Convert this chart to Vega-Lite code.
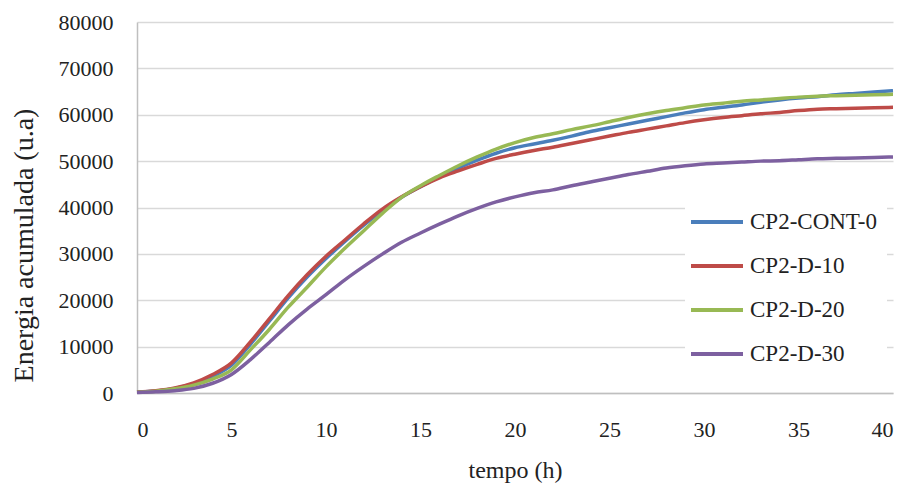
{
  "$schema": "https://vega.github.io/schema/vega-lite/v6.json",
  "width": 756,
  "height": 371,
  "autosize": {"type": "none"},
  "padding": {"left": 137, "top": 22, "right": 16, "bottom": 94},
  "background": "white",
  "config": {
    "view": {"stroke": null},
    "font": "Liberation Serif",
    "axis": {"labelFont": "Liberation Serif", "titleFont": "Liberation Serif"},
    "legend": {"labelFont": "Liberation Serif"}
  },
  "datasets": {
    "curves": [
      {"t":0,"s":"CP2-CONT-0","e":200},{"t":1,"s":"CP2-CONT-0","e":450},{"t":2,"s":"CP2-CONT-0","e":1000},{"t":3,"s":"CP2-CONT-0","e":2000},{"t":4,"s":"CP2-CONT-0","e":3600},{"t":5,"s":"CP2-CONT-0","e":6000},{"t":6,"s":"CP2-CONT-0","e":10500},{"t":7,"s":"CP2-CONT-0","e":15500},{"t":8,"s":"CP2-CONT-0","e":20500},{"t":9,"s":"CP2-CONT-0","e":25000},{"t":10,"s":"CP2-CONT-0","e":29000},{"t":11,"s":"CP2-CONT-0","e":32700},{"t":12,"s":"CP2-CONT-0","e":36200},{"t":13,"s":"CP2-CONT-0","e":39400},{"t":14,"s":"CP2-CONT-0","e":42200},{"t":15,"s":"CP2-CONT-0","e":44500},{"t":16,"s":"CP2-CONT-0","e":46600},{"t":17,"s":"CP2-CONT-0","e":48500},{"t":18,"s":"CP2-CONT-0","e":50200},{"t":19,"s":"CP2-CONT-0","e":51700},{"t":20,"s":"CP2-CONT-0","e":52900},{"t":21,"s":"CP2-CONT-0","e":53700},{"t":22,"s":"CP2-CONT-0","e":54500},{"t":23,"s":"CP2-CONT-0","e":55400},{"t":24,"s":"CP2-CONT-0","e":56400},{"t":25,"s":"CP2-CONT-0","e":57200},{"t":26,"s":"CP2-CONT-0","e":58000},{"t":27,"s":"CP2-CONT-0","e":58800},{"t":28,"s":"CP2-CONT-0","e":59600},{"t":29,"s":"CP2-CONT-0","e":60400},{"t":30,"s":"CP2-CONT-0","e":61100},{"t":31,"s":"CP2-CONT-0","e":61600},{"t":32,"s":"CP2-CONT-0","e":62100},{"t":33,"s":"CP2-CONT-0","e":62700},{"t":34,"s":"CP2-CONT-0","e":63200},{"t":35,"s":"CP2-CONT-0","e":63600},{"t":36,"s":"CP2-CONT-0","e":63900},{"t":37,"s":"CP2-CONT-0","e":64300},{"t":38,"s":"CP2-CONT-0","e":64600},{"t":39,"s":"CP2-CONT-0","e":64900},{"t":40,"s":"CP2-CONT-0","e":65200},
      {"t":0,"s":"CP2-D-10","e":200},{"t":1,"s":"CP2-D-10","e":500},{"t":2,"s":"CP2-D-10","e":1100},{"t":3,"s":"CP2-D-10","e":2200},{"t":4,"s":"CP2-D-10","e":4000},{"t":5,"s":"CP2-D-10","e":6500},{"t":6,"s":"CP2-D-10","e":11000},{"t":7,"s":"CP2-D-10","e":16000},{"t":8,"s":"CP2-D-10","e":21000},{"t":9,"s":"CP2-D-10","e":25500},{"t":10,"s":"CP2-D-10","e":29500},{"t":11,"s":"CP2-D-10","e":33000},{"t":12,"s":"CP2-D-10","e":36500},{"t":13,"s":"CP2-D-10","e":39700},{"t":14,"s":"CP2-D-10","e":42300},{"t":15,"s":"CP2-D-10","e":44500},{"t":16,"s":"CP2-D-10","e":46400},{"t":17,"s":"CP2-D-10","e":47900},{"t":18,"s":"CP2-D-10","e":49300},{"t":19,"s":"CP2-D-10","e":50600},{"t":20,"s":"CP2-D-10","e":51500},{"t":21,"s":"CP2-D-10","e":52300},{"t":22,"s":"CP2-D-10","e":53000},{"t":23,"s":"CP2-D-10","e":53800},{"t":24,"s":"CP2-D-10","e":54600},{"t":25,"s":"CP2-D-10","e":55400},{"t":26,"s":"CP2-D-10","e":56200},{"t":27,"s":"CP2-D-10","e":56900},{"t":28,"s":"CP2-D-10","e":57600},{"t":29,"s":"CP2-D-10","e":58300},{"t":30,"s":"CP2-D-10","e":58900},{"t":31,"s":"CP2-D-10","e":59400},{"t":32,"s":"CP2-D-10","e":59800},{"t":33,"s":"CP2-D-10","e":60200},{"t":34,"s":"CP2-D-10","e":60500},{"t":35,"s":"CP2-D-10","e":60900},{"t":36,"s":"CP2-D-10","e":61200},{"t":37,"s":"CP2-D-10","e":61300},{"t":38,"s":"CP2-D-10","e":61400},{"t":39,"s":"CP2-D-10","e":61500},{"t":40,"s":"CP2-D-10","e":61600},
      {"t":0,"s":"CP2-D-20","e":150},{"t":1,"s":"CP2-D-20","e":400},{"t":2,"s":"CP2-D-20","e":900},{"t":3,"s":"CP2-D-20","e":1700},{"t":4,"s":"CP2-D-20","e":3000},{"t":5,"s":"CP2-D-20","e":5000},{"t":6,"s":"CP2-D-20","e":9300},{"t":7,"s":"CP2-D-20","e":13700},{"t":8,"s":"CP2-D-20","e":18500},{"t":9,"s":"CP2-D-20","e":22800},{"t":10,"s":"CP2-D-20","e":27200},{"t":11,"s":"CP2-D-20","e":31200},{"t":12,"s":"CP2-D-20","e":35000},{"t":13,"s":"CP2-D-20","e":38800},{"t":14,"s":"CP2-D-20","e":42200},{"t":15,"s":"CP2-D-20","e":44700},{"t":16,"s":"CP2-D-20","e":46900},{"t":17,"s":"CP2-D-20","e":49000},{"t":18,"s":"CP2-D-20","e":50900},{"t":19,"s":"CP2-D-20","e":52600},{"t":20,"s":"CP2-D-20","e":54000},{"t":21,"s":"CP2-D-20","e":55100},{"t":22,"s":"CP2-D-20","e":55900},{"t":23,"s":"CP2-D-20","e":56800},{"t":24,"s":"CP2-D-20","e":57600},{"t":25,"s":"CP2-D-20","e":58500},{"t":26,"s":"CP2-D-20","e":59400},{"t":27,"s":"CP2-D-20","e":60200},{"t":28,"s":"CP2-D-20","e":60900},{"t":29,"s":"CP2-D-20","e":61500},{"t":30,"s":"CP2-D-20","e":62100},{"t":31,"s":"CP2-D-20","e":62500},{"t":32,"s":"CP2-D-20","e":62900},{"t":33,"s":"CP2-D-20","e":63200},{"t":34,"s":"CP2-D-20","e":63500},{"t":35,"s":"CP2-D-20","e":63800},{"t":36,"s":"CP2-D-20","e":64000},{"t":37,"s":"CP2-D-20","e":64100},{"t":38,"s":"CP2-D-20","e":64200},{"t":39,"s":"CP2-D-20","e":64300},{"t":40,"s":"CP2-D-20","e":64400},
      {"t":0,"s":"CP2-D-30","e":100},{"t":1,"s":"CP2-D-30","e":250},{"t":2,"s":"CP2-D-30","e":500},{"t":3,"s":"CP2-D-30","e":1000},{"t":4,"s":"CP2-D-30","e":2100},{"t":5,"s":"CP2-D-30","e":4000},{"t":6,"s":"CP2-D-30","e":7200},{"t":7,"s":"CP2-D-30","e":10900},{"t":8,"s":"CP2-D-30","e":14700},{"t":9,"s":"CP2-D-30","e":18100},{"t":10,"s":"CP2-D-30","e":21200},{"t":11,"s":"CP2-D-30","e":24400},{"t":12,"s":"CP2-D-30","e":27300},{"t":13,"s":"CP2-D-30","e":30000},{"t":14,"s":"CP2-D-30","e":32500},{"t":15,"s":"CP2-D-30","e":34500},{"t":16,"s":"CP2-D-30","e":36400},{"t":17,"s":"CP2-D-30","e":38200},{"t":18,"s":"CP2-D-30","e":39800},{"t":19,"s":"CP2-D-30","e":41200},{"t":20,"s":"CP2-D-30","e":42300},{"t":21,"s":"CP2-D-30","e":43200},{"t":22,"s":"CP2-D-30","e":43800},{"t":23,"s":"CP2-D-30","e":44700},{"t":24,"s":"CP2-D-30","e":45500},{"t":25,"s":"CP2-D-30","e":46300},{"t":26,"s":"CP2-D-30","e":47100},{"t":27,"s":"CP2-D-30","e":47800},{"t":28,"s":"CP2-D-30","e":48500},{"t":29,"s":"CP2-D-30","e":49000},{"t":30,"s":"CP2-D-30","e":49400},{"t":31,"s":"CP2-D-30","e":49600},{"t":32,"s":"CP2-D-30","e":49800},{"t":33,"s":"CP2-D-30","e":50000},{"t":34,"s":"CP2-D-30","e":50100},{"t":35,"s":"CP2-D-30","e":50300},{"t":36,"s":"CP2-D-30","e":50500},{"t":37,"s":"CP2-D-30","e":50600},{"t":38,"s":"CP2-D-30","e":50700},{"t":39,"s":"CP2-D-30","e":50800},{"t":40,"s":"CP2-D-30","e":50900}
    ]
  },
  "data": {"name": "curves"},
  "mark": {"type": "line", "strokeWidth": 3.5, "interpolate": "monotone"},
  "encoding": {
    "x": {
      "field": "t", "type": "quantitative",
      "scale": {"domain": [0, 40], "nice": false},
      "axis": {
        "title": "tempo (h)", "values": [0,5,10,15,20,25,30,35,40],
        "grid": false, "ticks": false, "domainColor": "#bfbfbf", "domainWidth": 1.5,
        "labelFont": "Liberation Serif", "labelFontSize": 22, "labelColor": "#222", "labelPadding": 26,
        "titleFont": "Liberation Serif", "titleFontSize": 24, "titleFontWeight": "normal", "titleColor": "#222", "titlePadding": 18
      }
    },
    "y": {
      "field": "e", "type": "quantitative",
      "scale": {"domain": [0, 80000], "nice": false},
      "axis": {
        "title": "Energia acumulada (u.a)", "values": [0,10000,20000,30000,40000,50000,60000,70000,80000],
        "format": "d", "grid": true, "gridColor": "#d9d9d9", "gridWidth": 1.5,
        "ticks": false, "domainColor": "#bfbfbf", "domainWidth": 1.5,
        "labelFont": "Liberation Serif", "labelFontSize": 22, "labelColor": "#222", "labelPadding": 24,
        "titleFont": "Liberation Serif", "titleFontSize": 28, "titleFontWeight": "normal", "titleColor": "#222", "titlePadding": 20,
        "titleY": 223
      }
    },
    "color": {
      "field": "s", "type": "nominal",
      "scale": {"domain": ["CP2-CONT-0","CP2-D-10","CP2-D-20","CP2-D-30"], "range": ["#4a7ebb","#be4b48","#98b954","#7d60a0"]},
      "legend": {
        "title": null, "orient": "none", "legendX": 548, "legendY": 168,
        "fillColor": "white", "padding": 10,
        "symbolType": "M-1.3,0H1.3", "symbolSize": 1600, "symbolStrokeWidth": 4,
        "labelFont": "Liberation Serif", "labelFontSize": 23, "labelColor": "#222", "labelOffset": 11, "rowPadding": 10
      }
    }
  }
}
